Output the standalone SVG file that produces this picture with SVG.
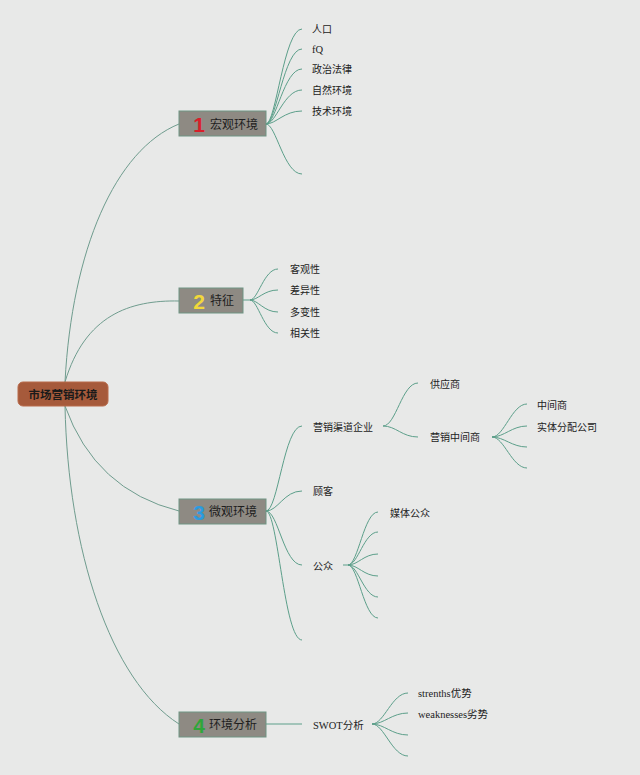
<svg xmlns="http://www.w3.org/2000/svg" width="640" height="775" viewBox="0 0 640 775">
<style>
.bg{fill:#e8e9e8}
.c{fill:none;stroke:#5c9f8a;stroke-width:1}
.cr{fill:none;stroke:#6f9c8e;stroke-width:1}
.box{fill:#8e8a83;stroke:#6f9583;stroke-width:1}
.root{fill:#a65a3b;stroke:#b86a4a;stroke-width:1}
.t{font-family:"Liberation Sans","Noto Sans CJK SC",sans-serif;font-size:10px;fill:#222;dominant-baseline:central}
.ts{font-family:"Liberation Serif","Noto Sans CJK SC",serif;font-size:10.5px;fill:#222;dominant-baseline:central}
.bt{font-family:"Liberation Sans","Noto Sans CJK SC",sans-serif;font-size:12px;fill:#1e1e1e;dominant-baseline:central}
.num{font-family:"Liberation Sans","DejaVu Sans",sans-serif;font-size:21px;font-weight:bold;text-anchor:middle;dominant-baseline:central}
.rt{font-family:"Liberation Sans","Noto Sans CJK SC",sans-serif;font-size:11.5px;font-weight:bold;fill:#1a1a1a;text-anchor:middle;dominant-baseline:central}
</style>
<rect class="bg" x="0" y="0" width="640" height="775"/>
<g id="connectors">
<path class="cr" d="M65 382 C72 250 115 150 179 124"/>
<path class="cr" d="M65 382 C85 315 130 300 179 301"/>
<path class="cr" d="M65 406 Q95 490 179 511"/>
<path class="cr" d="M65 406 C68 550 110 680 179 724"/>
<path class="c" d="M266 124 C276 124 284 29 302 29"/>
<path class="c" d="M266 124 C276 124 284 49 302 49"/>
<path class="c" d="M266 124 C276 124 284 69 302 69"/>
<path class="c" d="M266 124 C276 124 284 90 302 90"/>
<path class="c" d="M266 124 C276 124 284 111 302 111"/>
<path class="c" d="M266 124 C276 124 284 174 302 174"/>
<path class="c" d="M243 300 L250 300" stroke-width="2"/>
<path class="c" d="M250 300 C258 300 264 269 278 269"/>
<path class="c" d="M250 300 C258 300 264 290 278 290"/>
<path class="c" d="M250 300 C258 300 264 312 278 312"/>
<path class="c" d="M250 300 C258 300 264 333 278 333"/>
<path class="c" d="M266 511 C278 511 284 426 302 426"/>
<path class="c" d="M266 511 C278 511 284 491 302 491"/>
<path class="c" d="M266 511 C278 511 284 565 302 565"/>
<path class="c" d="M266 511 C278 511 284 640 302 640"/>
<path class="c" d="M383 426 C396 426 402 383 418 383"/>
<path class="c" d="M383 426 C396 426 402 437 418 437"/>
<path class="c" d="M492 437 C504 437 512 404 527 404"/>
<path class="c" d="M492 437 C504 437 512 426 527 426"/>
<path class="c" d="M492 437 C504 437 512 447 527 447"/>
<path class="c" d="M492 437 C504 437 512 468 527 468"/>
<path class="c" d="M343 565 L348 565" stroke-width="2"/>
<path class="c" d="M348 565 C358 565 364 512 378 512"/>
<path class="c" d="M348 565 C358 565 364 532 378 532"/>
<path class="c" d="M348 565 C358 565 364 554 378 554"/>
<path class="c" d="M348 565 C358 565 364 576 378 576"/>
<path class="c" d="M348 565 C358 565 364 597 378 597"/>
<path class="c" d="M348 565 C358 565 364 618 378 618"/>
<path class="c" d="M266 724 L302 724"/>
<path class="c" d="M372 724 C384 724 392 693 408 693"/>
<path class="c" d="M372 724 C384 724 392 713 408 713"/>
<path class="c" d="M372 724 C384 724 392 735 408 735"/>
<path class="c" d="M372 724 C384 724 392 756 408 756"/>
</g>
<g id="root">
<rect class="root" x="18" y="382" width="90" height="24" rx="5"/>
<text class="rt" x="63" y="395">市场营销环境</text>
</g>
<g id="n1">
<rect class="box" x="179" y="111" width="87" height="25"/>
<text class="num" x="199" y="124" fill="#d81f2a">1</text>
<text class="bt" x="210" y="125">宏观环境</text>
</g>
<g id="n2">
<rect class="box" x="179" y="288" width="64" height="25"/>
<text class="num" x="199" y="301" fill="#f2d83a">2</text>
<text class="bt" x="210" y="301">特征</text>
</g>
<g id="n3">
<rect class="box" x="179" y="499" width="87" height="25"/>
<text class="num" x="199" y="512" fill="#2b9be0">3</text>
<text class="bt" x="209" y="512">微观环境</text>
</g>
<g id="n4">
<rect class="box" x="179" y="712" width="87" height="25"/>
<text class="num" x="199" y="725" fill="#2fa63a">4</text>
<text class="bt" x="209" y="725">环境分析</text>
</g>
<g id="n1-leaves">
<text class="t" x="312" y="29">人口</text>
<text class="ts" x="312" y="49">fQ</text>
<text class="t" x="312" y="69">政治法律</text>
<text class="t" x="312" y="90">自然环境</text>
<text class="t" x="312" y="111">技术环境</text>
</g>
<g id="n2-leaves">
<text class="t" x="290" y="269">客观性</text>
<text class="t" x="290" y="290">差异性</text>
<text class="t" x="290" y="312">多变性</text>
<text class="t" x="290" y="333">相关性</text>
</g>
<g id="channel">
<text class="t" x="313" y="427">营销渠道企业</text>
</g>
<g id="supplier"><text class="t" x="430" y="384">供应商</text></g>
<g id="intermediary"><text class="t" x="430" y="437">营销中间商</text></g>
<g id="middleman"><text class="t" x="537" y="405">中间商</text></g>
<g id="distribution"><text class="t" x="537" y="427">实体分配公司</text></g>
<g id="customer"><text class="t" x="313" y="491">顾客</text></g>
<g id="public"><text class="t" x="313" y="566">公众</text></g>
<g id="media"><text class="t" x="390" y="513">媒体公众</text></g>
<g id="swot"><text class="ts" x="313" y="725">SWOT分析</text></g>
<g id="strengths"><text class="ts" x="418" y="693">strenths优势</text></g>
<g id="weaknesses"><text class="ts" x="418" y="714">weaknesses劣势</text></g>
</svg>
